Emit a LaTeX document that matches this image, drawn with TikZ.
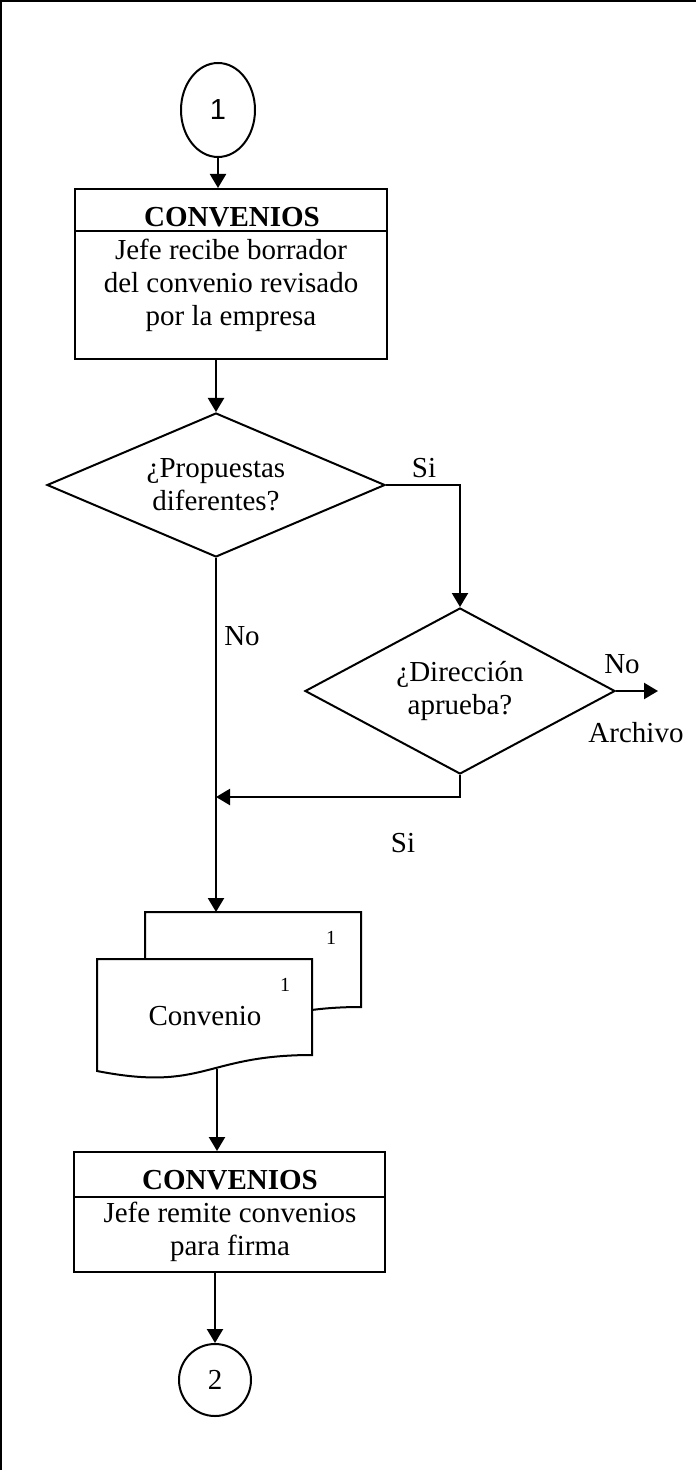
\documentclass[tikz,border=0pt]{standalone}
\usepackage{fontspec}
\setmainfont{Liberation Serif}
\newfontfamily\arialfont{Liberation Sans}
\usetikzlibrary{arrows.meta,shapes.geometric}
\begin{document}
\begin{tikzpicture}[x=0.5pt,y=-0.5pt,
  line width=1pt,
  txt/.style={font=\fontsize{14.5pt}{16.5pt}\selectfont, inner sep=0pt, align=center},
  small/.style={font=\fontsize{10pt}{12pt}\selectfont, inner sep=0pt},
  boxouter/.style={draw, rectangle, inner sep=0pt},
  decision/.style={draw, diamond, inner sep=0pt, txt},
  conn/.style={line width=1.1pt, -{Triangle[length=7pt,width=8pt]}},
  plain/.style={line width=1.1pt}
]
\useasboundingbox (0,0) rectangle (696,1470);

% page frame (left and top edges)
\draw[line width=1.3pt] (1,1470) -- (1,1) -- (696,1);

% start connector
\node[draw, ellipse, inner sep=0pt, minimum width=37pt, minimum height=47pt,
      font=\arialfont\fontsize{14.5pt}{16.5pt}\selectfont] (c1) at (218,110) {1};

% first activity
\node[boxouter, minimum width=156pt, minimum height=85pt] (b1) at (231,274) {};
\draw (b1.west |- 0,231) -- (b1.east |- 0,231);
\node[txt, font=\fontsize{14.5pt}{16.5pt}\selectfont\bfseries] (t1) at (232,217) {CONVENIOS};
\node[txt] (d1) at (231,285) {Jefe recibe borrador\\del convenio revisado\\por la empresa};

\draw[conn] (c1.south) -- (c1.south |- b1.north);

% first decision
\node[decision, aspect=2.35, minimum width=169pt, minimum height=72pt] (p1) at (216,485)
  {¿Propuestas\\diferentes?};
\draw[conn] (p1.north |- b1.south) -- (p1.north);
\node[txt] (si1) at (424,468) {Si};
\node[txt] (no1) at (242,636) {No};

% second decision
\node[decision, aspect=1.87, minimum width=155pt, minimum height=83pt] (p2) at (460,691)
  {¿Dirección\\aprueba?};
\draw[conn] (p1.east) -| (p2.north);
\node[txt] (no2) at (622,664) {No};
\coordinate (arch) at (658,691);
\draw[conn] (p2.east) -- (arch);
\node[txt] (archivo) at (636,733) {Archivo};

\coordinate (mrg) at (216,797);
\draw[conn] (p2.south) |- (mrg);
\node[txt] (si2) at (403,843) {Si};

% document stack
\coordinate (dtop) at (216,912);
\draw[conn] (p1.south) -- (dtop);
\draw[fill=white] (145,912) -- (361,912) -- (361,1007)
  .. controls (253,1007) and (253,1043) .. (145,1023) -- cycle;
\draw[fill=white] (97,959) -- (312,959) -- (312,1055)
  .. controls (204.5,1055) and (204.5,1092) .. (97,1071) -- cycle;
\node[small] (n1b) at (331,938) {1};
\node[small] (n1f) at (285,985) {1};
\node[txt] (conv) at (205,1016) {Convenio};
\coordinate (dbot) at (217,1069);

% second activity
\node[boxouter, minimum width=155.5pt, minimum height=60pt] (b2) at (229.5,1212) {};
\draw (b2.west |- 0,1197) -- (b2.east |- 0,1197);
\node[txt, font=\fontsize{14.5pt}{16.5pt}\selectfont\bfseries] (t2) at (230,1180) {CONVENIOS};
\node[txt] (d2) at (230,1231.5) {Jefe remite convenios\\para firma};
\draw[conn] (dbot) -- (dbot |- b2.north);

% end connector
\node[draw, circle, inner sep=0pt, minimum size=36pt, txt] (c2) at (215,1380) {2};
\draw[conn] (c2.north |- b2.south) -- (c2.north);
\end{tikzpicture}
\end{document}
